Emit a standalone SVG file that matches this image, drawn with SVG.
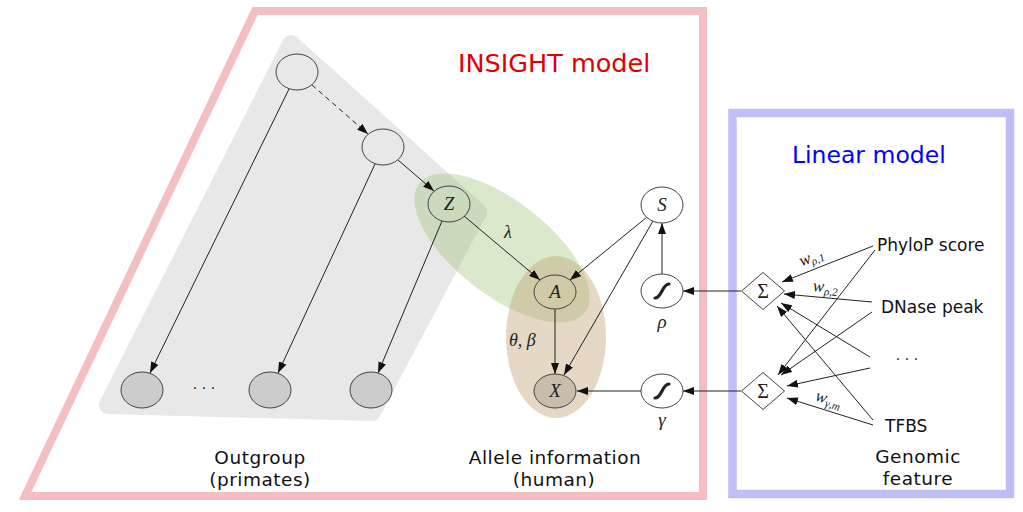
<svg xmlns="http://www.w3.org/2000/svg" width="1023" height="512" viewBox="0 0 1023 512">
<style>
  .node{fill:none;stroke:#444;stroke-width:1}
  .obs{fill:#cccccc;stroke:#444;stroke-width:1}
  .wnode{fill:#fff;stroke:#444;stroke-width:1}
  .edge{fill:none;stroke:#222;stroke-width:1;marker-end:url(#ah)}
  .math{font-family:"Liberation Serif","DejaVu Serif",serif;font-style:italic;fill:#222}
  .sans{font-family:"DejaVu Sans","Liberation Sans",sans-serif;fill:#111}
  .cap{font-family:"DejaVu Sans","Liberation Sans",sans-serif;fill:#111;font-size:18.5px;letter-spacing:0.5px;text-anchor:middle}
  .sig{fill:none;stroke:#222;stroke-width:3.2;stroke-linecap:round}
  .sum{font-family:"Liberation Serif","DejaVu Serif",serif;font-size:20px;fill:#222;text-anchor:middle}
</style>
<defs>
  <marker id="ah" viewBox="0 0 11 8" refX="11" refY="4" markerWidth="11" markerHeight="8" markerUnits="userSpaceOnUse" orient="auto">
    <path d="M0,0 L11,4 L0,8 z" fill="#111"/>
  </marker>
</defs>

<!-- frames and regions -->
<g id="frames">
  <polygon points="255,11 703,11 703,496 25,496" fill="none" stroke="#f4bfc0" stroke-width="8"/>
  <rect x="732.5" y="113" width="277.5" height="381" fill="none" stroke="#bfbff7" stroke-width="8.5"/>
  <text x="458" y="72" class="sans" font-size="25.5" style="fill:#e00000">INSIGHT model</text>
  <text x="792" y="163" class="sans" font-size="23.5" style="fill:#0000ff">Linear model</text>
</g>
<g id="regions">
  <polygon points="291,44 478,212 372,412 108,405" fill="#e8e8e8" stroke="#e8e8e8" stroke-width="18" stroke-linejoin="round"/>
  <ellipse cx="502" cy="248" rx="105" ry="47" transform="rotate(38 502 248)" fill="rgb(150,190,110)" fill-opacity="0.35"/>
  <ellipse cx="556" cy="337" rx="50" ry="81" fill="rgb(190,160,110)" fill-opacity="0.4"/>
</g>

<!-- connectors -->
<g id="connectors">
  <line class="edge" x1="289" y1="89" x2="150" y2="373"/>
  <line class="edge" x1="312" y1="85" x2="368" y2="134" stroke-dasharray="5,4"/>
  <line class="edge" x1="375" y1="164" x2="278" y2="373"/>
  <line class="edge" x1="398" y1="160" x2="434" y2="191"/>
  <line class="edge" x1="442" y1="221" x2="378" y2="373"/>
  <line class="edge" x1="464" y1="216" x2="540" y2="280"/>
  <line class="edge" x1="647" y1="217" x2="570" y2="280"/>
  <line class="edge" x1="653" y1="221" x2="564" y2="375"/>
  <line class="edge" x1="555" y1="309" x2="555" y2="374"/>
  <line class="edge" x1="662" y1="274" x2="662" y2="223"/>
  <line class="edge" x1="641" y1="391" x2="577" y2="391"/>
  <line class="edge" x1="741" y1="291" x2="683" y2="291"/>
  <line class="edge" x1="741" y1="391" x2="683" y2="391"/>
  <line class="edge" x1="873" y1="246" x2="782" y2="282"/>
  <line class="edge" x1="872" y1="302" x2="784" y2="294"/>
  <line class="edge" x1="870" y1="357" x2="781" y2="303"/>
  <line class="edge" x1="873" y1="420" x2="777" y2="306"/>
  <line class="edge" x1="875" y1="250" x2="778" y2="375"/>
  <line class="edge" x1="872" y1="312" x2="781" y2="375"/>
  <line class="edge" x1="870" y1="368" x2="787" y2="386"/>
  <line class="edge" x1="873" y1="425" x2="787" y2="398"/>
  <text class="math" font-size="18" x="508" y="238" text-anchor="middle">λ</text>
  <text class="math" font-size="18" x="509" y="346">θ, β</text>
  <text class="math" font-size="17" transform="translate(813,262) rotate(-21)" text-anchor="middle">w<tspan font-size="11" dy="3">ρ,1</tspan></text>
  <text class="math" font-size="17" transform="translate(825,292) rotate(5)" text-anchor="middle">w<tspan font-size="11" dy="3">ρ,2</tspan></text>
  <text class="math" font-size="17" transform="translate(827,404) rotate(17)" text-anchor="middle">w<tspan font-size="11" dy="3">γ,m</tspan></text>
</g>

<!-- nodes -->
<g id="root"><ellipse class="node" cx="297" cy="72" rx="21" ry="18"/></g>
<g id="ancestor"><ellipse class="node" cx="383" cy="147" rx="21" ry="18"/></g>
<g id="Z"><ellipse class="node" cx="449" cy="204" rx="21" ry="18"/><text class="math" font-size="19" x="449" y="210" text-anchor="middle">Z</text></g>
<g id="A"><ellipse class="node" cx="555" cy="292" rx="21" ry="17"/><text class="math" font-size="19" x="555" y="298" text-anchor="middle">A</text></g>
<g id="X"><ellipse cx="555" cy="391" rx="21" ry="17" fill="#c8bcaa" stroke="#444"/><text class="math" font-size="19" x="555" y="397" text-anchor="middle">X</text></g>
<g id="S"><ellipse class="wnode" cx="662" cy="205" rx="21" ry="18"/><text class="math" font-size="19" x="662" y="211" text-anchor="middle">S</text></g>
<g id="rho"><ellipse class="wnode" cx="662" cy="291" rx="21" ry="17"/><path class="sig" d="M655,298 C662,298 662,284 669,284"/><text class="math" font-size="19" x="662" y="328" text-anchor="middle">ρ</text></g>
<g id="gamma"><ellipse class="wnode" cx="662" cy="391" rx="21" ry="17"/><path class="sig" d="M655,398 C662,398 662,384 669,384"/><text class="math" font-size="19" x="662" y="426" text-anchor="middle">γ</text></g>
<g id="leaf1"><ellipse class="obs" cx="142" cy="390" rx="21" ry="18"/></g>
<g id="leaf-dots"><text class="sans" font-size="14" x="204" y="393" text-anchor="middle">· · ·</text></g>
<g id="leaf2"><ellipse class="obs" cx="270" cy="390" rx="21" ry="18"/></g>
<g id="leaf3"><ellipse class="obs" cx="371" cy="390" rx="21" ry="18"/></g>
<g id="sum1"><polygon points="741.5,291 763,272.5 784.5,291 763,309.5" fill="#fff" stroke="#444"/><text class="sum" x="763" y="298">Σ</text></g>
<g id="sum2"><polygon points="741.5,391 763,372.5 784.5,391 763,409.5" fill="#fff" stroke="#444"/><text class="sum" x="763" y="398">Σ</text></g>
<g id="f-phylop"><text class="sans" font-size="17" x="877" y="251">PhyloP score</text></g>
<g id="f-dnase"><text class="sans" font-size="17" x="881" y="313">DNase peak</text></g>
<g id="f-dots"><text class="sans" font-size="14" x="907" y="364" text-anchor="middle">· · ·</text></g>
<g id="f-tfbs"><text class="sans" font-size="17" x="885" y="432">TFBS</text></g>

<!-- captions -->
<g id="captions">
  <text class="cap" x="260" y="464">Outgroup</text>
  <text class="cap" x="260" y="486">(primates)</text>
  <text class="cap" x="555" y="464">Allele information</text>
  <text class="cap" x="554" y="486">(human)</text>
  <text class="cap" x="918" y="463">Genomic</text>
  <text class="cap" x="918" y="485">feature</text>
</g>
</svg>
